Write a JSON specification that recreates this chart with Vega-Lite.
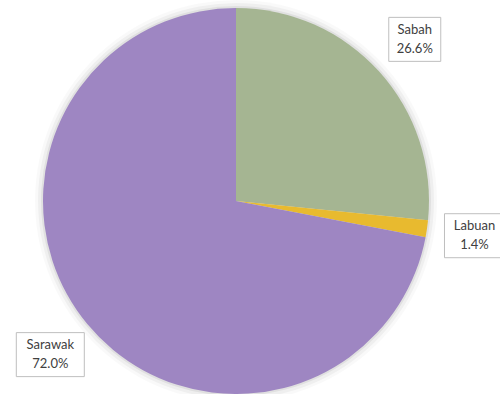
{
  "$schema": "https://vega.github.io/schema/vega-lite/v6.json",
  "width": 472,
  "height": 386,
  "autosize": "none",
  "padding": {"left": 0, "top": 8, "right": 28, "bottom": 0},
  "background": "white",
  "view": {"stroke": null},
  "data": {
    "values": [
      {"region": "Sabah", "share": 0.266},
      {"region": "Labuan", "share": 0.014},
      {"region": "Sarawak", "share": 0.720}
    ]
  },
  "transform": [
    {"window": [{"op": "row_number", "as": "idx"}]},
    {"stack": "share", "groupby": [], "sort": [{"field": "idx", "order": "ascending"}], "as": ["s0", "s1"]},
    {"calculate": "datum.region + '\\n' + format(datum.share, '.1%')", "as": "label"},
    {"calculate": "(datum.s0 + datum.s1) * PI", "as": "mid"},
    {"calculate": "241 * sin(datum.mid)", "as": "cx"},
    {"calculate": "241 * cos(datum.mid)", "as": "cy"},
    {"calculate": "4 * length(datum.region) + 6", "as": "hw"},
    {"calculate": "datum.cx - datum.hw", "as": "bx0"},
    {"calculate": "datum.cx + datum.hw", "as": "bx1"},
    {"calculate": "datum.cy - 22", "as": "by0"},
    {"calculate": "datum.cy + 22", "as": "by1"}
  ],
  "layer": [
    {
      "mark": {"type": "arc", "outerRadius": 201, "color": "#000000", "opacity": 0.025},
      "encoding": {"theta": {"field": "share", "type": "quantitative", "stack": true}, "order": {"field": "idx", "type": "quantitative"}}
    },
    {
      "mark": {"type": "arc", "outerRadius": 198, "color": "#000000", "opacity": 0.04},
      "encoding": {"theta": {"field": "share", "type": "quantitative", "stack": true}, "order": {"field": "idx", "type": "quantitative"}}
    },
    {
      "mark": {"type": "arc", "outerRadius": 195, "color": "#000000", "opacity": 0.06},
      "encoding": {"theta": {"field": "share", "type": "quantitative", "stack": true}, "order": {"field": "idx", "type": "quantitative"}}
    },
    {
      "mark": {"type": "arc", "outerRadius": 193},
      "encoding": {
        "theta": {"field": "share", "type": "quantitative", "stack": true},
        "order": {"field": "idx", "type": "quantitative"},
        "color": {
          "field": "region",
          "type": "nominal",
          "scale": {"domain": ["Sabah", "Labuan", "Sarawak"], "range": ["#A5B592", "#E8BA2F", "#9E86C2"]},
          "legend": null
        }
      }
    },
    {
      "mark": {"type": "rect", "fill": "#FFFFFF", "stroke": "#BFBFBF", "strokeWidth": 1},
      "encoding": {
        "x": {"field": "bx0", "type": "quantitative", "scale": {"domain": [-236, 236], "nice": false, "zero": false}, "axis": null},
        "x2": {"field": "bx1"},
        "y": {"field": "by0", "type": "quantitative", "scale": {"domain": [-193, 193], "nice": false, "zero": false}, "axis": null},
        "y2": {"field": "by1"}
      }
    },
    {
      "mark": {"type": "text", "radius": 241, "dy": -9.5, "font": "Lato", "fontSize": 13, "color": "#404040", "lineBreak": "\n", "lineHeight": 19, "align": "center", "baseline": "middle"},
      "encoding": {
        "theta": {"field": "share", "type": "quantitative", "stack": true},
        "order": {"field": "idx", "type": "quantitative"},
        "text": {"field": "label", "type": "nominal"}
      }
    }
  ]
}
